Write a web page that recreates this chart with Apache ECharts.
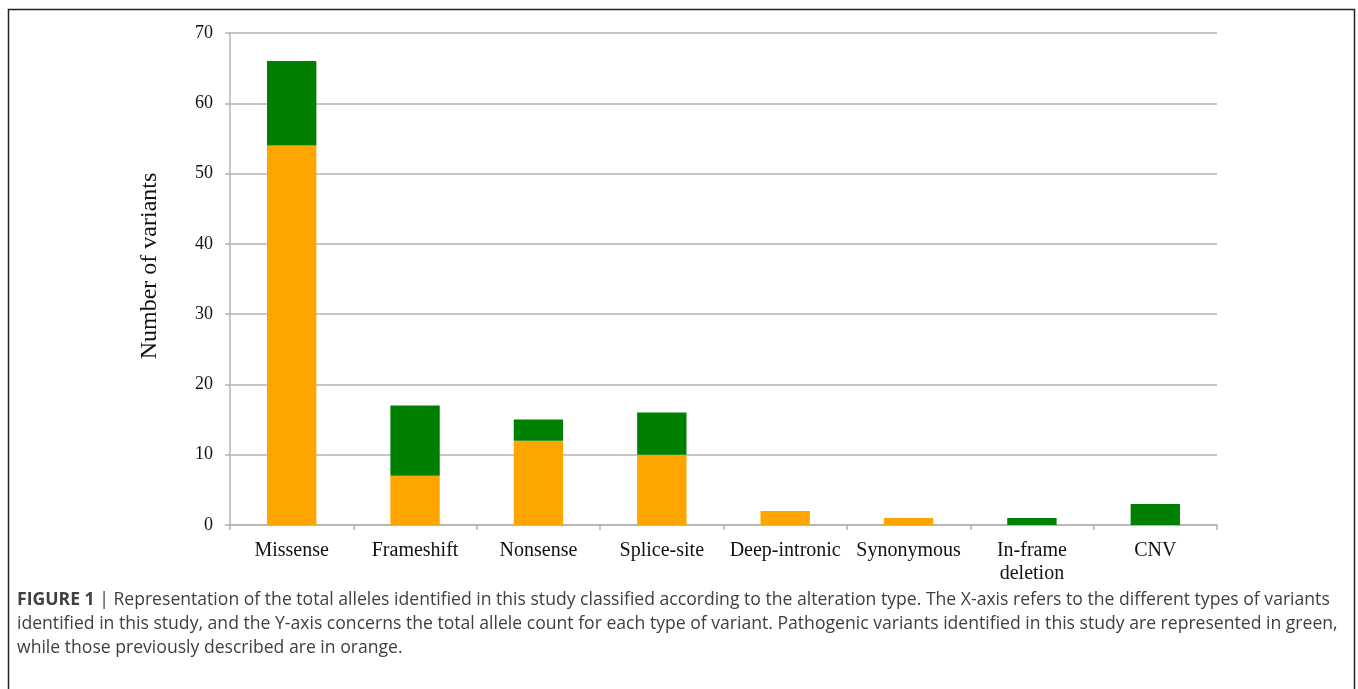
<!DOCTYPE html>
<html>
<head>
<meta charset="utf-8">
<script src="https://cdn.jsdelivr.net/npm/echarts@6/dist/echarts.min.js"></script>
<style>
  html, body { margin: 0; padding: 0; background: #fff; }
  #chart { width: 1358px; height: 689px; }
</style>
</head>
<body>
<div id="chart"></div>
<script>
// Variant types and allele counts
const categories = ['Missense', 'Frameshift', 'Nonsense', 'Splice-site', 'Deep-intronic', 'Synonymous', 'In-frame\ndeletion', 'CNV'];
const previouslyDescribed = [54, 7, 12, 10, 2, 1, 0, 0];   // orange
const novelPathogenic = [12, 10, 3, 6, 0, 0, 1, 3];         // green
const yTicks = { min: 0, max: 70, interval: 10 };

const captionLines = [
  ['FIGURE 1 ', 'Representation of the total alleles identified in this study classified according to the alteration type. The X-axis refers to the different types of variants'],
  ['', 'identified in this study, and the Y-axis concerns the total allele count for each type of variant. Pathogenic variants identified in this study are represented in green,'],
  ['', 'while those previously described are in orange.']
];

const serif = '"Liberation Serif", "Times New Roman", serif';
const sans = '"Open Sans", "Liberation Sans", Helvetica, Arial, sans-serif';
const axisGray = '#b3b3b3';
const captionColor = '#404040';
const captionSize = 17.6;

const chart = echarts.init(document.getElementById('chart'), null, { renderer: 'canvas' });

const captionGraphics = captionLines.map((ln, i) => ({
  type: 'text',
  left: 17,
  top: 591 + i * 24,
  style: {
    text: (ln[0] ? '{b|' + ln[0] + '}{bar|| }' : '') + '{n|' + ln[1] + '}',
    rich: {
      b: { fontFamily: sans, fontWeight: 'bold', fontSize: captionSize, fill: captionColor },
      bar: { fontFamily: sans, fontSize: captionSize, fill: captionColor },
      n: { fontFamily: sans, fontSize: captionSize, fill: captionColor }
    }
  }
}));

chart.setOption({
  animation: false,
  grid: { left: 230, right: 141, top: 33, bottom: 164, containLabel: false },
  xAxis: {
    type: 'category',
    data: categories,
    axisLine: { lineStyle: { color: axisGray, width: 1.5 } },
    axisTick: { show: true, interval: 0, length: 5, lineStyle: { color: axisGray, width: 1.5 } },
    axisLabel: { interval: 0, fontFamily: serif, fontSize: 20, color: '#111', margin: 14, lineHeight: 23 }
  },
  yAxis: {
    type: 'value',
    min: yTicks.min, max: yTicks.max, interval: yTicks.interval,
    name: 'Number of variants',
    nameLocation: 'middle',
    nameGap: 68,
    nameTextStyle: { fontFamily: serif, fontSize: 24, color: '#111', padding: [0, 0, 0, 26] },
    axisLine: { show: true, lineStyle: { color: axisGray, width: 1.5 } },
    axisTick: { show: true, length: 5, lineStyle: { color: axisGray, width: 1.5 } },
    axisLabel: { fontFamily: serif, fontSize: 18, color: '#111', margin: 17 },
    splitLine: { lineStyle: { color: axisGray, width: 1.5 } }
  },
  series: [
    {
      name: 'Previously described', type: 'bar', stack: 'total',
      data: previouslyDescribed, barWidth: '40%',
      itemStyle: { color: '#FFA500' }
    },
    {
      name: 'Identified in this study', type: 'bar', stack: 'total',
      data: novelPathogenic, barWidth: '40%',
      itemStyle: { color: '#008000' }
    }
  ],
  graphic: [
    {
      type: 'rect',
      shape: { x: 8.5, y: 9.5, width: 1346, height: 700 },
      style: { fill: 'none', stroke: '#222', lineWidth: 1.5 },
      silent: true
    },
    ...captionGraphics
  ]
});
</script>
</body>
</html>
